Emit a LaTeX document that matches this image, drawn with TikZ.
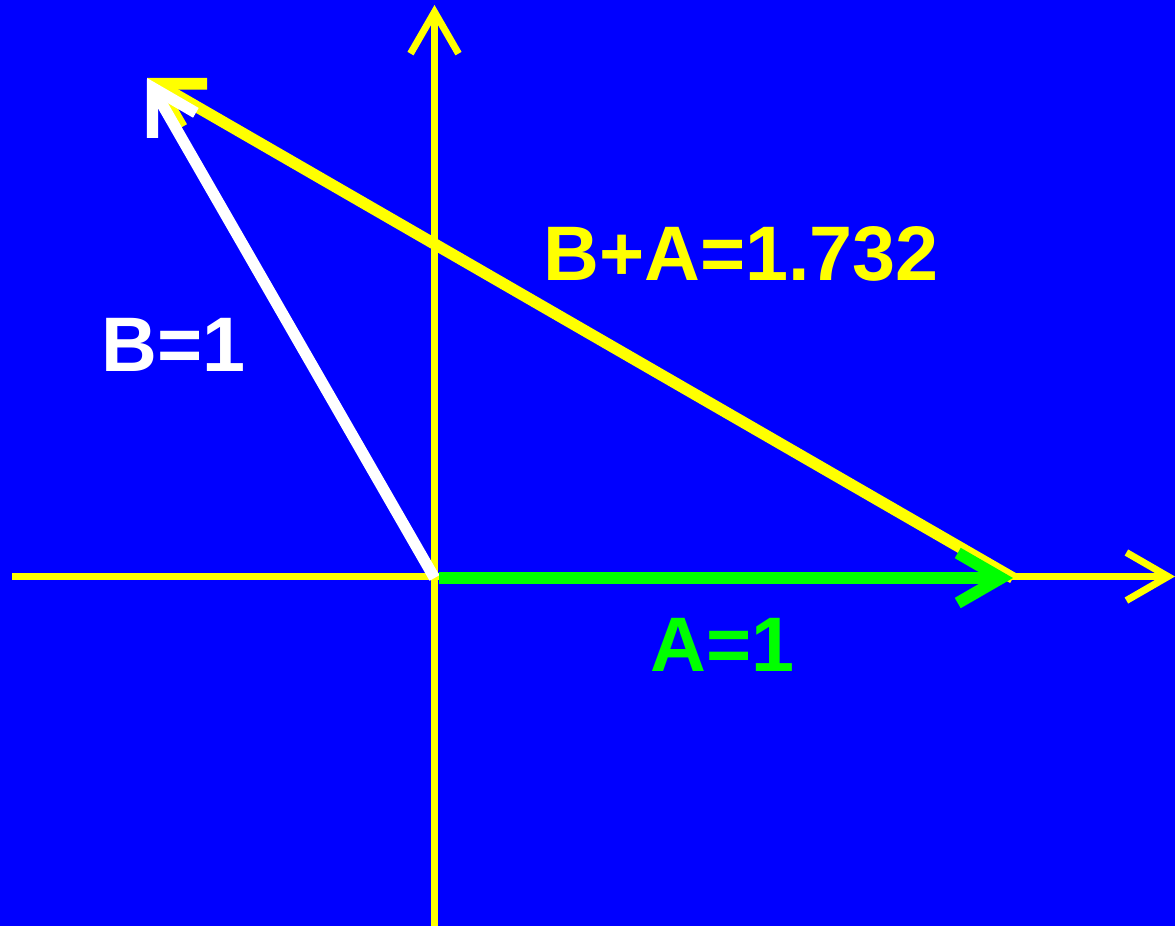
\documentclass[tikz,border=0pt]{standalone}
\usepackage{fontspec}
\setmainfont{Liberation Sans}
\usepackage{xcolor}
\usetikzlibrary{arrows.meta}

\definecolor{bgblue}{RGB}{0,0,255}
\definecolor{axyel}{RGB}{255,255,0}
\definecolor{vgreen}{RGB}{0,255,0}

\begin{document}
\begin{tikzpicture}[
    x=0.025cm, y=-0.025cm,
    every node/.style={font=\fontsize{55}{60}\selectfont\bfseries, inner sep=0pt},
    axis/.style={draw=axyel, line width=5pt, -{Straight Barb[angle=60:1.2cm]}},
    vecA/.style={draw=vgreen, line width=8.5pt, -{Straight Barb[angle=60:1.25cm]}},
    vecB/.style={draw=white, line width=8pt, -{Straight Barb[angle=60:1.25cm]}},
    vecS/.style={draw=axyel, line width=8.2pt, -{Straight Barb[angle=60:1.25cm]}}
]
\fill[bgblue] (0,0) rectangle (1175,926);
\useasboundingbox (0,0) rectangle (1175,926);

\coordinate (O)    at (434.5,578);
\coordinate (xl)   at (12,576.5);
\coordinate (xr)   at (1175,576.5);
\coordinate (yb)   at (434.5,926);
\coordinate (yt)   at (434.5,5);
\coordinate (Atip) at (1013,578);
\coordinate (Btip) at (147,78);

% axes
\draw[axis] (xl) -- (xr);
\draw[axis] (yb) -- (yt);

% vectors
\draw[vecS] (Atip) -- (Btip);
\draw[vecB] (O) -- (Btip);
\draw[vecA, shorten <=3pt] (O) -- (Atip);

\node[text=axyel]  (lblS) at (741,253.5) {B+A=1.732};
\node[text=white]  (lblB) at (173.5,345) {B=1};
\node[text=vgreen] (lblA) at (722.5,644.5) {A=1};
\end{tikzpicture}
\end{document}
